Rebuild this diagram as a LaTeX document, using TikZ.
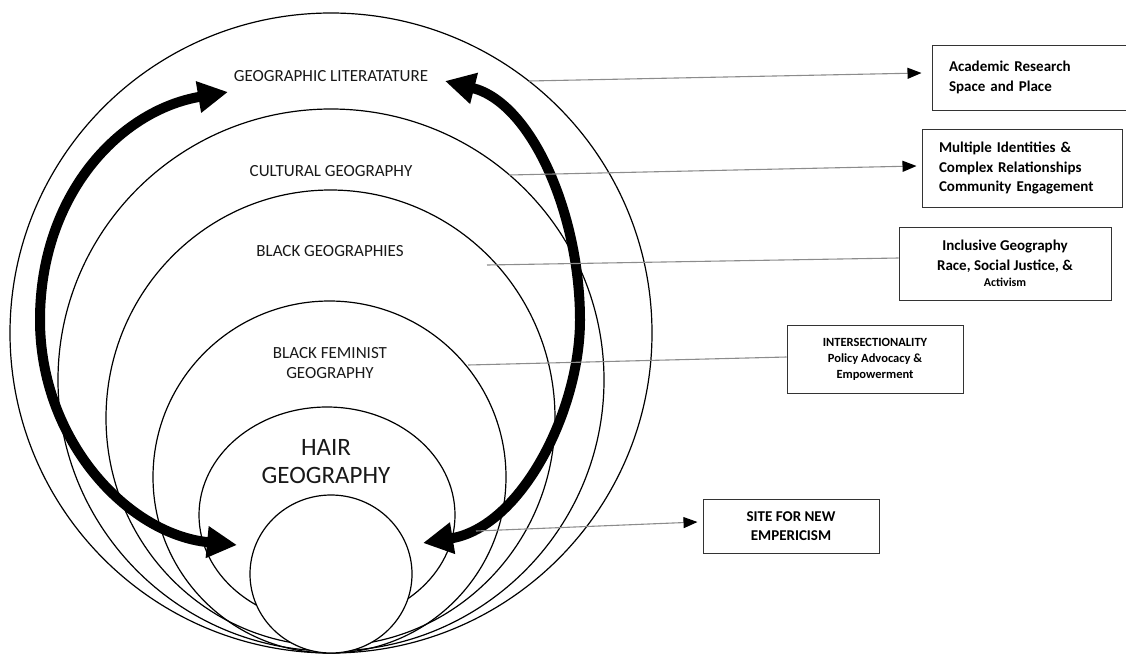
\documentclass[tikz,border=0pt]{standalone}
\usepackage{fontspec}
\setmainfont{Carlito}
\usetikzlibrary{arrows.meta,shapes.geometric}
\begin{document}
\begin{tikzpicture}[x=1pt,y=-1pt,
  ring/.style={ellipse, draw=black, line width=1.2pt, inner sep=0pt, outer sep=0pt},
  lbl/.style={font=\fontsize{17}{20}\selectfont, align=center, inner sep=0pt, text=black!90},
  hairlbl/.style={font=\fontsize{25}{28}\selectfont, align=center, inner sep=0pt, text=black!90},
  infobox/.style={draw=black!80, line width=1pt, fill=white, inner ysep=0pt, font=\bfseries\fontsize{15}{19.5}\selectfont},
  link/.style={draw=black!45, line width=1.1pt},
  linkarr/.style={link, -{Triangle[length=14pt,width=11pt,color=black]}},
  cyclearrow/.style={line width=10pt, {Triangle[length=30pt,width=30pt]}-{Triangle[length=30pt,width=30pt]}}
]
\useasboundingbox (0,0) rectangle (1126,654);
\clip (0,0) rectangle (1126,654);

% nested circles
\node[ring, minimum width=642pt, minimum height=640pt] (lit) at (331,333) {};
\node[ring, minimum width=546pt, minimum height=542pt] (cult) at (331,380) {};
\node[ring, minimum width=449pt, minimum height=456pt] (blk) at (330.5,418) {};
\node[ring, minimum width=353pt, minimum height=352pt] (fem) at (329.5,477) {};
\node[ring, minimum width=256pt, minimum height=216pt] (hair) at (327,515) {};
\node[ring, fill=white, minimum width=162pt, minimum height=158pt] (site) at (331,574) {};

% labels
\node[lbl] (tlit) at (331,76) {GEOGRAPHIC LITERATATURE};
\node[lbl] (tcult) at (331,171) {CULTURAL GEOGRAPHY};
\node[lbl] (tblk) at (330,251) {BLACK GEOGRAPHIES};
\node[lbl] (tfem) at (330,363) {BLACK FEMINIST\\GEOGRAPHY};
\node[hairlbl] (thair) at (326,462) {HAIR\\GEOGRAPHY};

% thick double arrows
\coordinate (lt) at (228,92);
\coordinate (lm) at (40,320);
\coordinate (lb) at (237,545);
\draw[cyclearrow] (lt) .. controls (119.5,110.4) and (40,195) .. (lm)
                       .. controls (40,440) and (127.5,534.4) .. (lb);
\coordinate (rt) at (445,81);
\coordinate (rm) at (580,320);
\coordinate (rb) at (423,543);
\draw[cyclearrow] (rt) .. controls (532,103) and (580,215) .. (rm)
                       .. controls (580,410) and (521.7,526.8) .. (rb);

% boxes
\node[infobox, minimum width=208pt, minimum height=65pt, text width=174pt, inner xsep=17pt, align=left] (b1) at (1036,77.5) {Academic Research\\Space and Place};
\node[infobox, minimum width=200pt, minimum height=78pt, text width=166pt, inner xsep=17pt, align=left] (b2) at (1022,168) {Multiple Identities \&\\Complex Relationships\\Community Engagement};
\node[infobox, minimum width=212pt, minimum height=73pt, inner xsep=0pt, align=center] (b3) at (1005,263.5) {Inclusive Geography\\Race, Social Justice, \&\\[-3pt]{\fontsize{12}{15}\selectfont Activism}};
\node[infobox, minimum width=176pt, minimum height=68pt, inner xsep=0pt, align=center, font=\bfseries\fontsize{12.5}{16}\selectfont] (b4) at (875,359) {INTERSECTIONALITY\\Policy Advocacy \&\\Empowerment};
\node[infobox, minimum width=176pt, minimum height=54pt, inner xsep=0pt, align=center, font=\bfseries\fontsize{15}{19}\selectfont] (b5) at (791,526) {SITE FOR NEW\\EMPERICISM};

% connectors
\coordinate (s1) at (529,81);
\coordinate (s2) at (509,175);
\coordinate (s3) at (487,265);
\coordinate (s4) at (468,365);
\coordinate (s5) at (476,531);
\draw[linkarr] (s1) -- ([xshift=-10pt,yshift=4.5pt]b1.west);
\draw[linkarr] (s2) -- ([xshift=-5pt,yshift=2pt]b2.west);
\draw[link] (s3) -- ([yshift=5.5pt]b3.west);
\draw[link] (s4) -- ([yshift=2pt]b4.west);
\draw[linkarr] (s5) -- ([xshift=-5pt,yshift=4pt]b5.west);
\end{tikzpicture}
\end{document}
